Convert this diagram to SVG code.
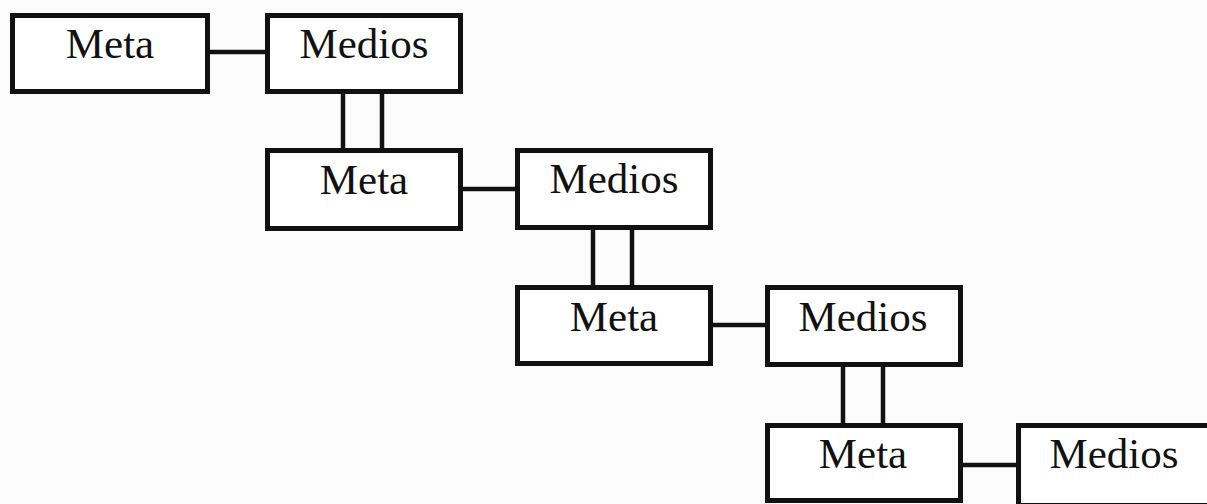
<svg xmlns="http://www.w3.org/2000/svg" width="1207" height="504" viewBox="0 0 1207 504">
<style>
.box{fill:#fff;stroke:#111;stroke-width:5}
.lbl{font-family:"Liberation Serif","Times New Roman",serif;font-size:43px;fill:#111;text-anchor:middle}
.con{stroke:#111;stroke-width:4.5;fill:none}
</style>
<rect width="1207" height="504" fill="#fcfcfc"/>
<g id="connectors">
<line class="con" x1="210" y1="52" x2="265" y2="52"/>
<line class="con" x1="343" y1="94" x2="343" y2="148"/>
<line class="con" x1="382" y1="94" x2="382" y2="148"/>
<line class="con" x1="462" y1="189" x2="515" y2="189"/>
<line class="con" x1="593" y1="230" x2="593" y2="285"/>
<line class="con" x1="632" y1="230" x2="632" y2="285"/>
<line class="con" x1="712" y1="325" x2="765" y2="325"/>
<line class="con" x1="843" y1="367" x2="843" y2="423"/>
<line class="con" x1="883" y1="367" x2="883" y2="423"/>
<line class="con" x1="962" y1="465" x2="1016" y2="465"/>
</g>
<g id="meta1"><rect class="box" x="12.5" y="15.5" width="195" height="76"/><text class="lbl" x="110" y="58">Meta</text></g>
<g id="medios1"><rect class="box" x="267.5" y="15.5" width="193" height="76"/><text class="lbl" x="364" y="58">Medios</text></g>
<g id="meta2"><rect class="box" x="267.5" y="150.5" width="193" height="78"/><text class="lbl" x="364" y="194">Meta</text></g>
<g id="medios2"><rect class="box" x="517.5" y="150.5" width="193" height="77"/><text class="lbl" x="614" y="193">Medios</text></g>
<g id="meta3"><rect class="box" x="517.5" y="287.5" width="193" height="76"/><text class="lbl" x="614" y="331">Meta</text></g>
<g id="medios3"><rect class="box" x="767.5" y="287.5" width="193" height="77"/><text class="lbl" x="863" y="331">Medios</text></g>
<g id="meta4"><rect class="box" x="767.5" y="425.5" width="193" height="75"/><text class="lbl" x="863" y="468">Meta</text></g>
<g id="medios4"><rect class="box" x="1018.5" y="425.5" width="196" height="80"/><text class="lbl" x="1114" y="468">Medios</text></g>
</svg>
